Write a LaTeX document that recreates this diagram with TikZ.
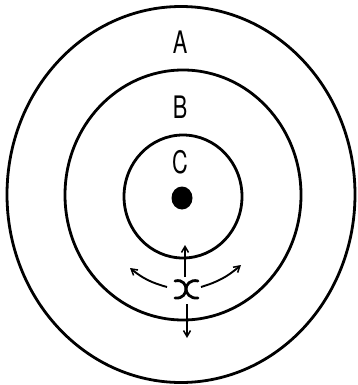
\documentclass[tikz,border=0pt]{standalone}
\usepackage{fontspec}
\setmainfont{TeX Gyre Heros}
\usetikzlibrary{arrows.meta}
\begin{document}
\begin{tikzpicture}[x=1pt,y=-1pt,
  ring/.style={line width=2.8pt},
  lbl/.style={font=\fontsize{31}{31}\selectfont, xscale=0.7, transform shape, inner sep=0pt},
  arr/.style={line width=1.9pt, -{Straight Barb[length=6pt,width=7pt,line width=1.5pt]}},
  glyph/.style={line width=2.8pt, line cap=round}]
\useasboundingbox (0,0) rectangle (357,385);
\fill[white] (0,0) rectangle (357,385);
\draw[ring] (181,194.5) ellipse [x radius=174, y radius=188];
\draw[ring] (183,195) ellipse [x radius=118, y radius=125];
\draw[ring] (183,196.5) ellipse [x radius=59, y radius=61.5];
\fill (182,198) ellipse [x radius=10.5, y radius=11.5] node (dot) {};
\node[lbl] (A) at (180,42) {A};
\node[lbl] (B) at (180,107) {B};
\node[lbl] (C) at (180,162) {C};
% symbol
\coordinate (sym) at (186,289);
\draw[glyph] (175,281) .. controls (183,279) and (186,285) .. (186,289)
             .. controls (186,293) and (183,299) .. (175,298);
\draw[glyph] (198,281) .. controls (190,279) and (186,285) .. (186,289)
             .. controls (186,293) and (190,299) .. (198,298);
% arrows
\coordinate (su) at (185,277);
\coordinate (eu) at (185,245);
\coordinate (sd) at (187,304);
\coordinate (ed) at (187,338);
\coordinate (sl) at (167,287);
\coordinate (el) at (130,268);
\coordinate (sr) at (201,287);
\coordinate (er) at (241,265);
\draw[arr] (su) -- (eu);
\draw[arr] (sd) -- (ed);
\draw[arr] (sl) to[bend left=12] (el);
\draw[arr] (sr) to[bend right=12] (er);
\end{tikzpicture}
\end{document}
